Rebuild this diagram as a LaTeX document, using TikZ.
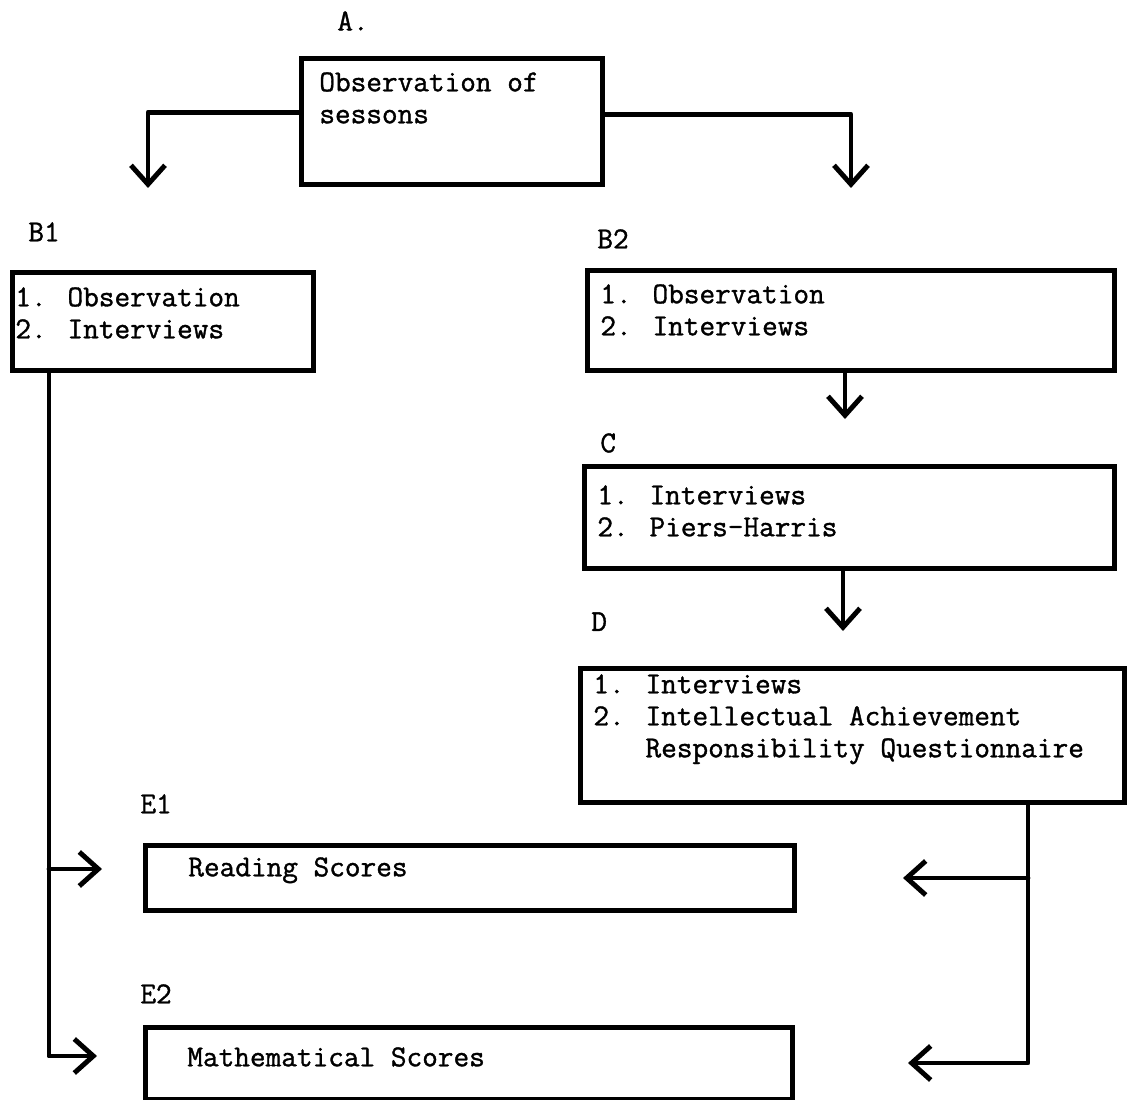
\documentclass[tikz,border=0pt]{standalone}
\usepackage{fontspec}
\newfontfamily\typer[FakeBold=1.2]{Latin Modern Mono}
\usetikzlibrary{arrows.meta}
\begin{document}
\begin{tikzpicture}[x=0.2mm, y=-0.2mm,
    every node/.style={font=\typer\fontsize{17.3}{18.2}\selectfont, inner sep=0pt},
    box/.style={draw, line width=2.8pt, anchor=north west},
    lbl/.style={anchor=north west},
    item/.style={anchor=north west, align=left},
    flow/.style={line width=2.8pt, line cap=round, line join=round},
    tip/.style={-{Straight Barb[length=0.38cm, width=0.68cm]}}]
    \useasboundingbox (0,0) rectangle (1127,1100);

    % boxes
    \node[box, minimum width=6.02cm, minimum height=2.52cm] (obs) at (299,56) {};
    \node[box, minimum width=6.02cm, minimum height=1.96cm] (bone) at (10,270) {};
    \node[box, minimum width=10.54cm, minimum height=2cm] (btwo) at (585,268) {};
    \node[box, minimum width=10.6cm, minimum height=2.04cm] (cbox) at (582,464) {};
    \node[box, minimum width=10.88cm, minimum height=2.68cm] (dbox) at (578,666) {};
    \node[box, minimum width=12.98cm, minimum height=1.3cm] (eone) at (143,843) {};
    \node[box, minimum width=12.94cm, minimum height=1.44cm] (etwo) at (143,1025) {};

    % labels
    \node[lbl] (la) at (337,11) {A.};
    \node[lbl] (lbone) at (28,222) {B1};
    \node[lbl] (lbtwo) at (597,229) {B2};
    \node[lbl] (lc) at (600,433) {C};
    \node[lbl] (ld) at (591,612) {D};
    \node[lbl] (leone) at (140,794) {E1};
    \node[lbl] (letwo) at (140,984) {E2};

    % texts
    \node[item] (obstxt) at (319,72) {Observation of\\sessons};
    \node[item] (bonetxt) at (15,287) {1. Observation\\2. Interviews};
    \node[item] (btwotxt) at (600,284) {1. Observation\\2. Interviews};
    \node[item] (ctxt) at (597,485) {1. Interviews\\2. Piers-Harris};
    \node[item] (dtxt) at (593,674) {1. Interviews\\2. Intellectual Achievement\\\hphantom{2. }Responsibility Questionnaire};
    \node[item] (eonetxt) at (188,857) {Reading Scores};
    \node[item] (etwotxt) at (187,1047) {Mathematical Scores};

    % connectors
    \coordinate (bonein) at (148,188);
    \coordinate (btwoin) at (851,188);
    \coordinate (cin) at (845,419);
    \coordinate (din) at (843,631);
    \coordinate (lft) at (49,869);
    \coordinate (rgt) at (1028,878);
    \coordinate (eonel) at (102,869);
    \coordinate (etwol) at (97,1056);
    \coordinate (eoner) at (903,878);
    \coordinate (etwor) at (908,1063);

    \draw[flow,tip] ([yshift=0.18cm]obs.west) -| (bonein);
    \draw[flow,tip] ([yshift=0.14cm]obs.east) -| (btwoin);
    \draw[flow,tip] (btwo.south -| cin) -- (cin);
    \draw[flow,tip] (cbox.south -| din) -- (din);

    \draw[flow,tip] (bone.south -| lft) |- (etwol);
    \draw[flow,tip] (lft) -- (eonel);
    \draw[flow,tip] (dbox.south -| rgt) |- (etwor);
    \draw[flow,tip] (rgt) -- (eoner);
\end{tikzpicture}
\end{document}
